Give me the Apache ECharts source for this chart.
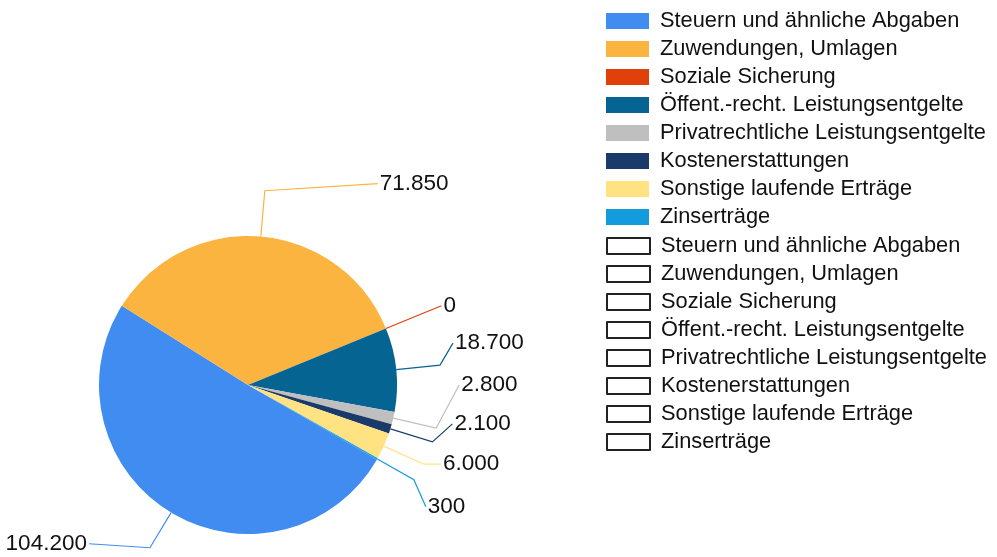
<!DOCTYPE html>
<html>
<head>
<meta charset="utf-8">
<script src="https://cdn.jsdelivr.net/npm/echarts@6/dist/echarts.min.js"></script>
<style>
  html, body { margin: 0; padding: 0; background: #fff; }
  #chart { width: 997px; height: 557px; }
</style>
</head>
<body>
<div id="chart"></div>
<script>
// Ertragsarten, Kreisdiagramm mit Legende rechts (zweimal: farbig und leer)
const categories = [
  'Steuern und ähnliche Abgaben',
  'Zuwendungen, Umlagen',
  'Soziale Sicherung',
  'Öffent.-recht. Leistungsentgelte',
  'Privatrechtliche Leistungsentgelte',
  'Kostenerstattungen',
  'Sonstige laufende Erträge',
  'Zinserträge',
]
const values = [104200, 71850, 0, 18700, 2800, 2100, 6000, 300]
const colors = ['#418CF0', '#FCB441', '#E0400A', '#056492', '#BFBFBF', '#1A3B69', '#FFE382', '#129CDD']

// Beschriftungslinien: radiale Länge, dann zweites Segment (dx, dy) bis zum Text
const guideLength = [41, 46, 60, 44, 44, 44, 44, 42]
const guideBend = [[-61, -4], [113, -7], [0, 0], [13, -22], [23, -43], [20, -18], [17, 0], [12, 27]]

const FONT = '"Liberation Sans", Arial, sans-serif'
const TEXT = '#111111'

const fmt = (v) => String(v).replace(/\B(?=(\d{3})+(?!\d))/g, '.')

const chart = echarts.init(document.getElementById('chart'), null, { renderer: 'canvas' })

const legendBase = {
  orient: 'vertical', left: 606, padding: 0,
  icon: 'rect', itemWidth: 43, itemHeight: 16, itemGap: 6,
  selectedMode: false,
  textStyle: { fontFamily: FONT, fontSize: 21.8, color: TEXT, padding: [0, 0, 0, 6] },
  data: categories,
}

chart.setOption({
  animation: false,
  color: colors,
  textStyle: { fontFamily: FONT },
  legend: [
    { ...legendBase, top: 10 },
    { ...legendBase, top: 235,
      itemStyle: { color: '#ffffff', borderColor: '#222222', borderWidth: 2 } },
  ],
  series: [{
    type: 'pie',
    center: [248, 385],
    radius: 149,
    startAngle: -30,
    clockwise: true,
    avoidLabelOverlap: false,
    emphasis: { disabled: true },
    itemStyle: { borderWidth: 0 },
    label: {
      show: true, position: 'outside',
      fontFamily: FONT, fontSize: 22.5, color: TEXT,
      formatter: (p) => fmt(p.value),
    },
    labelLine: { show: true, length: 44, length2: 10, smooth: false, lineStyle: { width: 1.2 } },
    labelLayout: (p) => {
      const pts = p.labelLinePoints
      if (!pts) return {}
      const i = p.dataIndex
      const [bx, by] = guideBend[i]
      const p0 = pts[0], p1 = pts[1]
      const end = [p1[0] + bx, p1[1] + by]
      const left = end[0] < 248
      return {
        x: end[0] + (left ? -2 : 2),
        y: end[1],
        align: left ? 'right' : 'left',
        verticalAlign: 'middle',
        labelLinePoints: [p0, p1, end],
      }
    },
    data: categories.map((name, i) => ({
      name, value: values[i],
      labelLine: { length: guideLength[i] },
    })),
  }],
})
</script>
</body>
</html>
